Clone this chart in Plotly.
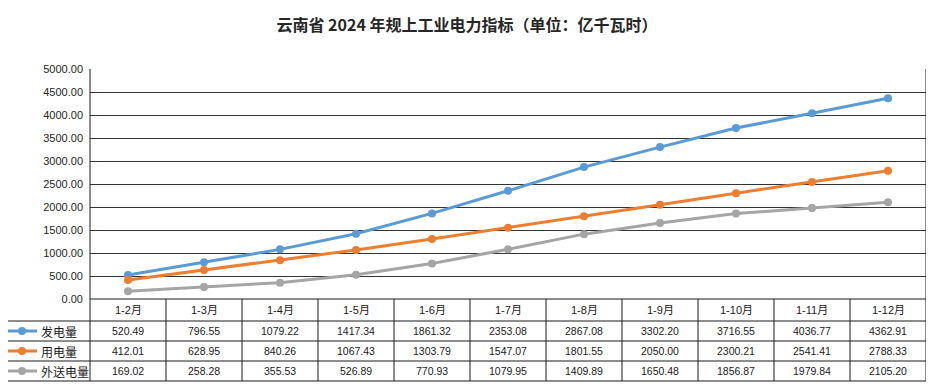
import plotly.graph_objects as go

months = ["1-2月", "1-3月", "1-4月", "1-5月", "1-6月", "1-7月", "1-8月", "1-9月", "1-10月", "1-11月", "1-12月"]
gen = [520.49, 796.55, 1079.22, 1417.34, 1861.32, 2353.08, 2867.08, 3302.20, 3716.55, 4036.77, 4362.91]
use = [412.01, 628.95, 840.26, 1067.43, 1303.79, 1547.07, 1801.55, 2050.00, 2300.21, 2541.41, 2788.33]
out = [169.02, 258.28, 355.53, 526.89, 770.93, 1079.95, 1409.89, 1650.48, 1856.87, 1979.84, 2105.20]
series_names = ["发电量", "用电量", "外送电量"]
series_values = [gen, use, out]
colors = ["#5B9BD5", "#ED7D31", "#A5A5A5"]
y_ticks = [0, 500, 1000, 1500, 2000, 2500, 3000, 3500, 4000, 4500, 5000]
title = "云南省 2024 年规上工业电力指标（单位：亿千瓦时）"

OFF = 8  # page body margin
W, H = 934 - OFF, 387 - OFF
PLOT_L, PLOT_R, PLOT_T, PLOT_B = 90, 926, 69, 299  # page pixel coords
L, T = PLOT_L - OFF, PLOT_T - OFF
R, B = W - (PLOT_R - OFF), H - (PLOT_B - OFF)
PW, PH = PLOT_R - PLOT_L, PLOT_B - PLOT_T
n = len(months)

def xp(px):
    return (px - PLOT_L) / PW

def yp(py):
    return (PLOT_B - py) / PH

fig = go.Figure()
for name, vals, c in zip(series_names, series_values, colors):
    fig.add_trace(go.Scatter(
        x=list(range(n)), y=vals, name=name, mode="lines+markers",
        line=dict(color=c, width=3), marker=dict(color=c, size=8),
        showlegend=False, cliponaxis=False))

line_col = "#1a1a1a"
shapes = []
row_edges = [299, 321, 341, 361, 381]
shapes.append(dict(type="line", xref="paper", yref="paper", x0=0, x1=1,
                   y0=yp(row_edges[0]), y1=yp(row_edges[0]), line=dict(color=line_col, width=1)))
for r in row_edges[1:]:
    shapes.append(dict(type="line", xref="paper", yref="paper", x0=xp(4), x1=1,
                       y0=yp(r), y1=yp(r), line=dict(color=line_col, width=1)))
for k in range(n + 1):
    top = 1 if k in (0, n) else yp(row_edges[0])
    shapes.append(dict(type="line", xref="paper", yref="paper", x0=k / n, x1=k / n,
                       y0=top, y1=yp(row_edges[-1]), line=dict(color=line_col, width=1)))
shapes.append(dict(type="line", xref="paper", yref="paper", x0=xp(4), x1=xp(4),
                   y0=yp(row_edges[1]), y1=yp(row_edges[-1]), line=dict(color=line_col, width=1)))

annotations = []
num_font = dict(family="Liberation Sans, Arial, sans-serif", size=10.5, color="#1a1a1a")
cjk_font = dict(family="Liberation Sans, Noto Sans CJK SC, sans-serif", size=11, color="#1a1a1a")
for i, m in enumerate(months):
    annotations.append(dict(x=(i + 0.5) / n, y=yp(310), xref="paper", yref="paper", text=m,
                            showarrow=False, xanchor="center", yanchor="middle", font=cjk_font))
for j, (name, vals, c) in enumerate(zip(series_names, series_values, colors)):
    yc = (row_edges[j + 1] + row_edges[j + 2]) / 2
    for i, v in enumerate(vals):
        annotations.append(dict(x=(i + 0.5) / n, y=yp(yc), xref="paper", yref="paper",
                                text=f"{v:.2f}", showarrow=False, xanchor="center", yanchor="middle",
                                font=num_font))
    annotations.append(dict(x=xp(39), y=yp(yc), xref="paper", yref="paper", text=name,
                            showarrow=False, xanchor="left", yanchor="middle",
                            font=dict(family="Noto Sans CJK SC, sans-serif", size=12, color="#1a1a1a")))
    shapes.append(dict(type="line", xref="paper", yref="paper", x0=xp(7), x1=xp(37),
                       y0=yp(yc), y1=yp(yc), line=dict(color=c, width=3)))
    shapes.append(dict(type="circle", xref="paper", yref="paper", xsizemode="pixel", ysizemode="pixel",
                       xanchor=xp(22), yanchor=yp(yc), x0=-4, x1=4, y0=-4, y1=4,
                       fillcolor=c, line=dict(color=c, width=0)))

fig.update_layout(
    width=W, height=H,
    margin=dict(l=L, r=R, t=T, b=B),
    paper_bgcolor="white", plot_bgcolor="white",
    title=dict(text=f"<b>{title}</b>", x=(467 - OFF) / W, xanchor="center", y=1 - (25 - OFF) / H,
               yanchor="middle", yref="container", xref="container",
               font=dict(family="Noto Sans CJK SC, sans-serif", size=16, color="#262626")),
    xaxis=dict(range=[-0.5, n - 0.5], showticklabels=False, showgrid=False, zeroline=False,
               showline=False, ticks="", fixedrange=True),
    yaxis=dict(range=[0, 5000], tickvals=y_ticks, tickformat=".2f", showgrid=True,
               gridcolor="#333333", gridwidth=1, zeroline=False, showline=False, ticks="",
               tickfont=dict(family="Liberation Sans, Arial, sans-serif", size=11, color="#262626"),
               ticklabelstandoff=6),
    shapes=shapes, annotations=annotations,
)

fig.write_html("out.html")
